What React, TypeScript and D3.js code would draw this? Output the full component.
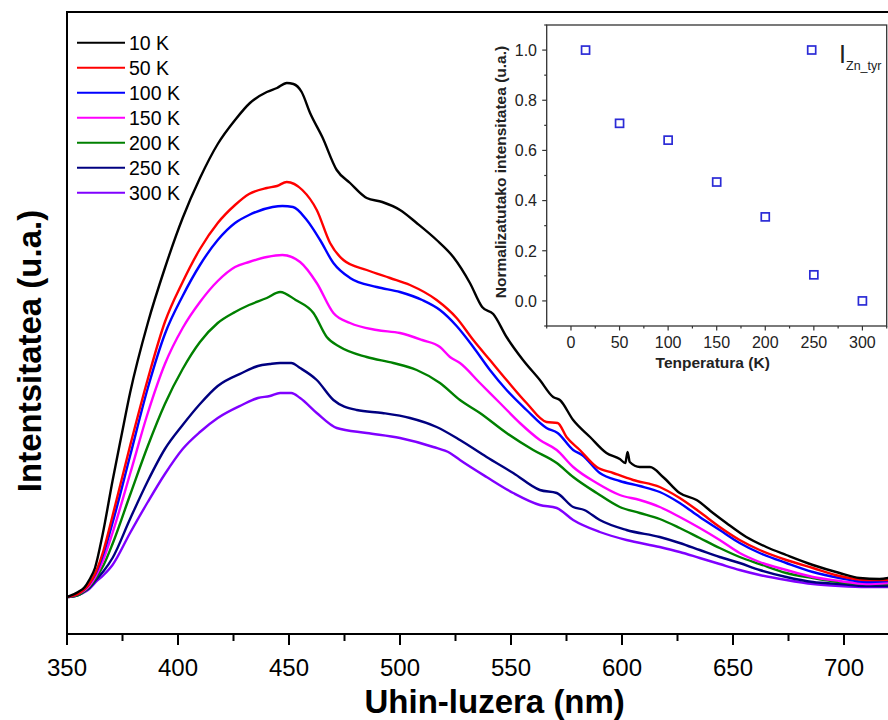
import React from "react";
import * as d3 from "d3";

// ---------- DATA ----------
const seriesLabels = ["10 K", "50 K", "100 K", "150 K", "200 K", "250 K", "300 K"];
const seriesColors = ["#000000", "#ff0000", "#0000ff", "#ff00ff", "#008000", "#000080", "#8000ff"];

// [wavelength nm, intensity a.u.]
const s10K: [number, number][] = [
  [350, 37], [355, 42], [358, 47], [360, 54], [362.6, 66], [366, 99], [370.5, 153], [374.5, 198],
  [378.4, 241], [386.4, 311], [394.1, 366], [402.1, 416], [409.9, 456], [417.9, 490], [425.7, 514],
  [432.4, 531], [440, 542], [444.6, 546], [449, 551], [452, 550], [455.7, 542], [459.5, 521],
  [465, 497], [471.5, 464], [477.5, 451], [485, 436], [492, 432], [500, 424], [507.5, 411],
  [516.5, 394], [524, 377], [531.5, 351], [537, 327], [542, 320], [548, 297], [555.4, 274],
  [563, 254], [569, 237], [572, 234], [578, 214], [585.6, 197], [593, 181], [599, 175],
  [601.5, 171], [602.5, 182], [603.5, 172], [608, 167], [612.6, 167], [618.5, 157], [626, 141],
  [633.6, 134], [641, 121], [647, 111], [656, 97], [665, 87], [674, 79], [686, 69], [698, 61],
  [707, 56], [716, 55], [720, 56],
];
const s50K: [number, number][] = [
  [350, 37], [355, 40], [358, 45], [360, 50], [363, 62], [366.5, 84], [370.5, 118], [378.4, 188],
  [386.4, 255], [394.1, 312], [402.1, 352], [409.9, 385], [417.9, 411], [425.7, 429], [432, 440],
  [440, 446], [444.6, 448], [449, 452], [456, 444], [462.5, 424], [468.5, 391], [474.5, 374],
  [485, 364], [495.5, 356], [504.5, 349], [516.5, 334], [525.5, 316], [533, 294], [540.5, 274],
  [548, 254], [557, 231], [566, 212], [571, 211], [575, 197], [581, 184], [588.6, 167], [596, 161],
  [605, 154], [617, 147], [626, 136], [635, 122], [644, 107], [653, 94], [662, 84], [674, 74],
  [686, 66], [698, 58], [710, 54], [720, 54],
];
const s100K: [number, number][] = [
  [350, 37], [355, 40], [358, 45], [360, 50], [363, 61], [366.5, 81], [370.5, 111], [378.4, 178],
  [386.4, 246], [394.1, 300], [402.1, 338], [409.9, 369], [417.9, 394], [425.7, 411], [432, 419],
  [442.6, 427], [447, 428], [451.8, 427], [458, 414], [464, 394], [470, 371], [477.5, 356],
  [489.5, 347], [500, 342], [510, 334], [518, 324], [525.5, 308], [533, 287], [540.5, 264],
  [548, 244], [557, 224], [566, 206], [571, 201], [578, 184], [582, 179], [590, 161], [599, 153],
  [608, 148], [617, 142], [626, 131], [635, 117], [644, 104], [653, 91], [662, 81], [674, 71],
  [686, 62], [698, 56], [710, 52], [720, 53],
];
const s150K: [number, number][] = [
  [350, 37], [355, 40], [358, 44], [360, 48], [363, 58], [366.5, 75], [370.5, 101], [378.4, 160],
  [386.4, 221], [394.1, 270], [402.1, 306], [409.9, 332], [417.9, 353], [425.7, 367], [432, 372],
  [440, 377], [447, 379], [455, 372], [462.5, 351], [470, 321], [477.5, 311], [489.5, 304],
  [500, 301], [510, 294], [518, 287], [522.5, 277], [527, 271], [536, 251], [545, 231], [554, 211],
  [563, 194], [570.6, 184], [578, 167], [588.6, 151], [599, 139], [608, 134], [617, 127],
  [626, 117], [635, 106], [644, 94], [653, 81], [662, 72], [674, 64], [686, 57], [698, 53],
  [710, 50], [720, 51],
];
const s200K: [number, number][] = [
  [350, 37], [355, 39], [358, 43], [360, 47], [363, 56], [366.5, 69], [370.5, 90], [378.4, 139],
  [386.4, 188], [394.1, 230], [402.1, 265], [409.9, 292], [417.9, 311], [425.7, 322], [432, 329],
  [440, 336], [446, 342], [453, 334], [461, 321], [467, 297], [473, 287], [485, 277], [497, 271],
  [507.5, 264], [518, 251], [527, 234], [536, 221], [548, 201], [560, 184], [570.6, 171],
  [578, 157], [588.6, 141], [599, 127], [608, 121], [617, 115], [626, 106], [635, 96], [644, 86],
  [653, 77], [662, 70], [674, 61], [686, 56], [698, 52], [710, 50], [720, 50],
];
const s250K: [number, number][] = [
  [350, 37], [355, 39], [358, 43], [360, 46], [363, 54], [366.5, 63], [370.5, 76], [378.4, 115],
  [386.4, 153], [394.1, 185], [402.1, 209], [409.9, 230], [417.9, 248], [428.8, 261], [436, 268],
  [441.4, 270], [446, 271], [451, 271], [455, 266], [462.5, 254], [470, 234], [480.5, 224],
  [492, 221], [504.5, 216], [516.5, 207], [527, 194], [539, 177], [551, 161], [563, 144],
  [570.6, 141], [578, 127], [583, 124], [590, 114], [602, 104], [617, 97], [626, 91], [635, 84],
  [644, 77], [653, 71], [662, 64], [674, 57], [686, 52], [698, 50], [710, 48], [720, 48],
];
const s300K: [number, number][] = [
  [350, 37], [355, 39], [358, 42], [360, 45], [363, 52], [366.5, 59], [370.5, 69], [378.4, 101],
  [386.4, 132], [394.1, 160], [402.1, 185], [409.9, 202], [417.9, 216], [428.8, 229], [436, 236],
  [441.4, 238], [446, 241], [451, 241], [455, 236], [462.5, 221], [471.5, 206], [485, 201],
  [500, 196], [515, 187], [522.5, 181], [527, 174], [539, 157], [551, 141], [563, 129],
  [570.6, 126], [578, 114], [590, 102], [602, 94], [617, 87], [626, 82], [635, 76], [644, 70],
  [653, 64], [662, 59], [674, 54], [686, 50], [698, 48], [710, 47], [720, 47],
];
const allSeries = [s10K, s50K, s100K, s150K, s200K, s250K, s300K];

const mainXTicks = [350, 400, 450, 500, 550, 600, 650, 700];
const mainXMinor = [375, 425, 475, 525, 575, 625, 675];

// inset
const insetTemps = [15, 50, 100, 150, 200, 250, 300];
const insetValues = [1.0, 0.708, 0.641, 0.474, 0.335, 0.104, 0.0];
const insetXTicks = [0, 50, 100, 150, 200, 250, 300];
const insetXMinor = [-25, 25, 75, 125, 175, 225, 275, 325];
const insetYTicks = [0, 0.2, 0.4, 0.6, 0.8, 1.0];
const insetYMinor = [-0.1, 0.1, 0.3, 0.5, 0.7, 0.9, 1.1];

const FONT = "'Liberation Sans', Arial, Helvetica, sans-serif";

export default function App() {
  const W = 888, H = 720;
  const x = d3.scaleLinear().domain([350, 720]).range([67, 888.4]);
  const y = d3.scaleLinear().domain([0, 622]).range([634, 12]);
  const line = d3
    .line<[number, number]>()
    .x((d) => x(d[0]))
    .y((d) => y(d[1]))
    .curve(d3.curveMonotoneX);

  const xi = d3.scaleLinear().domain([-25, 325]).range([546.7, 886.7]);
  const yi = d3.scaleLinear().domain([-0.1, 1.1]).range([326, 25]);

  const order = [6, 5, 4, 3, 2, 1, 0];
  const legendY0 = 42.7;
  const legendDy = 25;
  const mk = 8;

  return (
    <svg
      width={W}
      height={H}
      style={{ position: "absolute", left: 0, top: 0, display: "block", background: "#fff" }}
      fontFamily={FONT}
    >
      <defs>
        <clipPath id="plotClip">
          <rect x={67} y={12} width={W - 67} height={634 - 12} />
        </clipPath>
      </defs>
      <rect x={0} y={0} width={W} height={H} fill="#fff" />

      {/* curves */}
      <g clipPath="url(#plotClip)">
        {order.map((i) => (
          <path
            key={i}
            d={line(allSeries[i]) || ""}
            fill="none"
            stroke={seriesColors[i]}
            strokeWidth={2.4}
            strokeLinejoin="round"
          />
        ))}
      </g>

      {/* main frame */}
      <path d={`M${W + 5},12 H67 V634 H${W + 5}`} fill="none" stroke="#000" strokeWidth={2} />

      {/* x ticks */}
      {mainXTicks.map((t) => (
        <g key={t}>
          <line x1={x(t)} x2={x(t)} y1={634} y2={645} stroke="#000" strokeWidth={2} />
          <text x={x(t)} y={676} fontSize={24} textAnchor="middle" fill="#000">
            {t}
          </text>
        </g>
      ))}
      {mainXMinor.map((t) => (
        <line key={t} x1={x(t)} x2={x(t)} y1={634} y2={641} stroke="#000" strokeWidth={2} />
      ))}

      {/* axis titles */}
      <text x={494.7} y={713} fontSize={33} fontWeight="bold" textAnchor="middle" fill="#000">
        Uhin-luzera (nm)
      </text>
      <text
        transform="translate(41,351) rotate(-90)"
        fontSize={33}
        fontWeight="bold"
        textAnchor="middle"
        fill="#000"
      >
        Intentsitatea (u.a.)
      </text>

      {/* legend */}
      {seriesLabels.map((lab, i) => (
        <g key={lab}>
          <line
            x1={77}
            x2={125}
            y1={legendY0 + i * legendDy}
            y2={legendY0 + i * legendDy}
            stroke={seriesColors[i]}
            strokeWidth={2}
          />
          <text x={129} y={legendY0 + i * legendDy + 7} fontSize={19.5} fill="#000">
            {lab}
          </text>
        </g>
      ))}

      {/* inset */}
      <g>
        <rect
          x={xi(-25)}
          y={yi(1.1)}
          width={xi(325) - xi(-25)}
          height={yi(-0.1) - yi(1.1)}
          fill="none"
          stroke="#333"
          strokeWidth={1.3}
        />
        {insetYTicks.map((t) => (
          <g key={t}>
            <line x1={xi(-25) - 4.5} x2={xi(-25)} y1={yi(t)} y2={yi(t)} stroke="#333" strokeWidth={1.2} />
            <text x={537} y={yi(t) + 5.8} fontSize={16} textAnchor="end" fill="#222">
              {t.toFixed(1)}
            </text>
          </g>
        ))}
        {insetYMinor.map((t) => (
          <line key={t} x1={xi(-25) - 2.5} x2={xi(-25)} y1={yi(t)} y2={yi(t)} stroke="#333" strokeWidth={1.2} />
        ))}
        {insetXTicks.map((t) => (
          <g key={t}>
            <line x1={xi(t)} x2={xi(t)} y1={yi(-0.1)} y2={yi(-0.1) + 4.5} stroke="#333" strokeWidth={1.2} />
            <text x={xi(t)} y={348} fontSize={16} textAnchor="middle" fill="#222">
              {t}
            </text>
          </g>
        ))}
        {insetXMinor.map((t) => (
          <line key={t} x1={xi(t)} x2={xi(t)} y1={yi(-0.1)} y2={yi(-0.1) + 2.5} stroke="#333" strokeWidth={1.2} />
        ))}
        <text x={712.7} y={368} fontSize={15.5} fontWeight="bold" textAnchor="middle" fill="#222">
          Tenperatura (K)
        </text>
        <text
          transform="translate(506,172) rotate(-90)"
          fontSize={15.5}
          fontWeight="bold"
          textAnchor="middle"
          fill="#222"
        >
          Normalizatutako intensitatea (u.a.)
        </text>

        {insetTemps.map((t, i) => (
          <rect
            key={t}
            x={xi(t) - mk / 2}
            y={yi(insetValues[i]) - mk / 2}
            width={mk}
            height={mk}
            fill="none"
            stroke="#2b2bd6"
            strokeWidth={1.7}
          />
        ))}

        {/* inset legend */}
        <rect x={811.7 - mk / 2} y={50 - mk / 2} width={mk} height={mk} fill="none" stroke="#2b2bd6" strokeWidth={1.7} />
        <text x={839} y={63} fontSize={25} fill="#222">
          I
        </text>
        <text x={846} y={70} fontSize={12.5} fill="#222">
          Zn_tyr
        </text>
      </g>
    </svg>
  );
}
